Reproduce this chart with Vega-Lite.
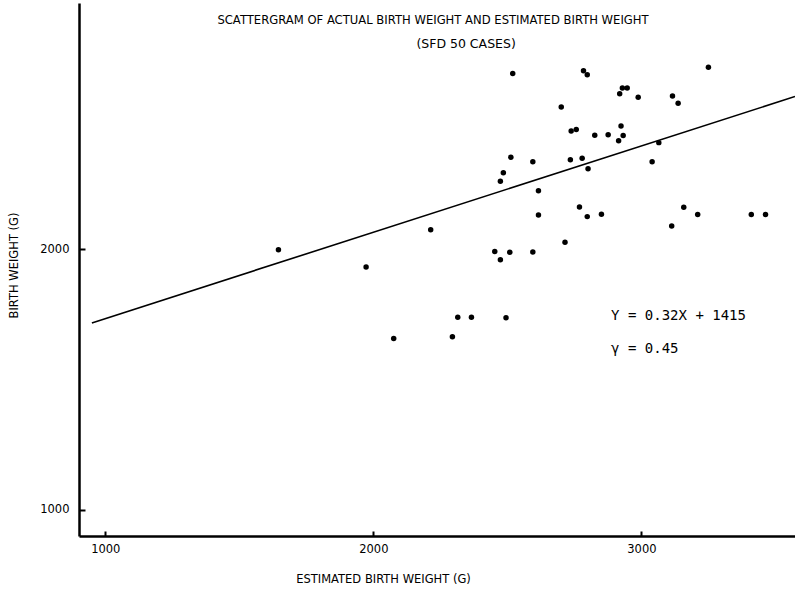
{
  "$schema": "https://vega.github.io/schema/vega-lite/v6.json",
  "width": 716,
  "height": 533,
  "autosize": {"type": "none"},
  "padding": {"left": 79, "top": 3, "right": 0, "bottom": 56},
  "background": "white",
  "config": {
    "view": {"stroke": null},
    "font": "DejaVu Sans",
    "axis": {"grid": false, "domainColor": "black", "domainWidth": 2.5, "tickColor": "black", "tickWidth": 2, "labelColor": "black", "titleColor": "black", "labelFont": "DejaVu Sans", "labelFontSize": 11.5, "titleFont": "DejaVu Sans", "titleFontSize": 11.5, "titleFontWeight": "normal"}
  },
  "title": {"text": "SCATTERGRAM OF ACTUAL BIRTH WEIGHT AND ESTIMATED BIRTH WEIGHT", "font": "DejaVu Sans", "fontSize": 11.6, "fontWeight": "normal", "color": "black", "anchor": "middle", "frame": "group", "offset": -24, "dx": -4},
  "datasets": {
    "pts": [
      {"est": 2520, "actual": 2675}, {"est": 2784, "actual": 2686}, {"est": 2798, "actual": 2671}, {"est": 3250, "actual": 2699},
      {"est": 2929, "actual": 2620}, {"est": 2947, "actual": 2620}, {"est": 2919, "actual": 2598}, {"est": 2988, "actual": 2584},
      {"est": 3116, "actual": 2589}, {"est": 3137, "actual": 2561}, {"est": 2701, "actual": 2547}, {"est": 2738, "actual": 2455},
      {"est": 2757, "actual": 2460}, {"est": 2924, "actual": 2474}, {"est": 2826, "actual": 2438}, {"est": 2876, "actual": 2440},
      {"est": 2932, "actual": 2437}, {"est": 2915, "actual": 2417}, {"est": 3065, "actual": 2410}, {"est": 2513, "actual": 2354},
      {"est": 2595, "actual": 2337}, {"est": 2735, "actual": 2344}, {"est": 2779, "actual": 2350}, {"est": 2801, "actual": 2310},
      {"est": 3040, "actual": 2337}, {"est": 2485, "actual": 2294}, {"est": 2474, "actual": 2262}, {"est": 2616, "actual": 2225},
      {"est": 2769, "actual": 2163}, {"est": 3158, "actual": 2162}, {"est": 2616, "actual": 2132}, {"est": 2798, "actual": 2126},
      {"est": 2851, "actual": 2135}, {"est": 3210, "actual": 2134}, {"est": 3410, "actual": 2134}, {"est": 3463, "actual": 2134},
      {"est": 3113, "actual": 2090}, {"est": 2715, "actual": 2028}, {"est": 1646, "actual": 1999}, {"est": 1973, "actual": 1933},
      {"est": 2214, "actual": 2076}, {"est": 2453, "actual": 1992}, {"est": 2474, "actual": 1960}, {"est": 2509, "actual": 1989},
      {"est": 2595, "actual": 1990}, {"est": 2315, "actual": 1740}, {"est": 2366, "actual": 1740}, {"est": 2495, "actual": 1738},
      {"est": 2076, "actual": 1658}, {"est": 2295, "actual": 1665}
    ],
    "fit": [{"est": 950, "actual": 1718}, {"est": 3573, "actual": 2587}],
    "notes": [
      {"est": 2887, "actual": 1745, "label": "Y = 0.32X + 1415"},
      {"est": 2887, "actual": 1618, "label": "γ = 0.45"}
    ],
    "sub": [{"est": 2346, "actual": 2789, "label": "(SFD 50 CASES)"}]
  },
  "layer": [
    {
      "data": {"name": "fit"},
      "mark": {"type": "line", "color": "black", "strokeWidth": 1.6},
      "encoding": {
        "x": {"field": "est", "type": "quantitative", "scale": {"domain": [902, 3573], "nice": false, "zero": false},
              "axis": {"values": [1000, 2000, 3000], "format": "d", "tickSize": -5, "labelPadding": 12, "title": "ESTIMATED BIRTH WEIGHT (G)", "titleX": 304, "titleY": 43, "titleBaseline": "middle", "titleAlign": "center"}},
        "y": {"field": "actual", "type": "quantitative", "scale": {"domain": [900, 2946], "nice": false, "zero": false},
              "axis": {"values": [1000, 2000], "format": "d", "tickSize": -6, "labelPadding": 16, "title": "BIRTH WEIGHT (G)", "titleX": -65, "titleY": 262, "titleBaseline": "middle", "titleAlign": "center"}}
      }
    },
    {
      "data": {"name": "pts"},
      "mark": {"type": "circle", "color": "black", "opacity": 1, "size": 30},
      "encoding": {
        "x": {"field": "est", "type": "quantitative"},
        "y": {"field": "actual", "type": "quantitative"}
      }
    },
    {
      "data": {"name": "notes"},
      "mark": {"type": "text", "align": "left", "baseline": "middle", "font": "DejaVu Sans Mono", "fontSize": 14, "color": "black"},
      "encoding": {
        "x": {"field": "est", "type": "quantitative"},
        "y": {"field": "actual", "type": "quantitative"},
        "text": {"field": "label"}
      }
    },
    {
      "data": {"name": "sub"},
      "mark": {"type": "text", "align": "center", "baseline": "middle", "font": "DejaVu Sans", "fontSize": 12.5, "color": "black"},
      "encoding": {
        "x": {"field": "est", "type": "quantitative"},
        "y": {"field": "actual", "type": "quantitative"},
        "text": {"field": "label"}
      }
    }
  ]
}
